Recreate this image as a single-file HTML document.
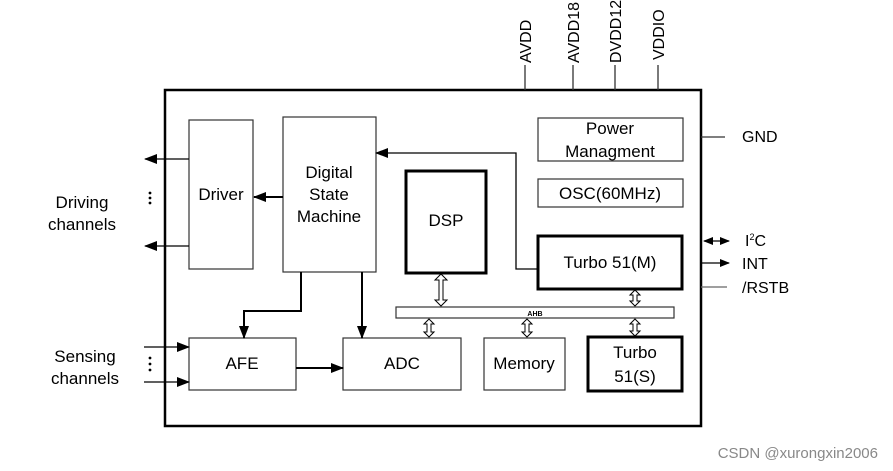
<!DOCTYPE html>
<html><head><meta charset="utf-8"><style>
html,body{margin:0;padding:0;background:#fff}
svg{display:block}
text{font-family:"Liberation Sans",Arial,sans-serif;fill:#000}
</style></head><body>
<svg width="893" height="471" viewBox="0 0 893 471" xmlns="http://www.w3.org/2000/svg">
<defs>
<marker id="ah" markerWidth="13" markerHeight="10" refX="12" refY="5" orient="auto" markerUnits="userSpaceOnUse"><path d="M0,0 L13,5 L0,10 z" fill="#000"/></marker>
<marker id="ahs" markerWidth="10" markerHeight="8" refX="9" refY="4" orient="auto-start-reverse" markerUnits="userSpaceOnUse"><path d="M0,0 L10,4 L0,8 z" fill="#000"/></marker>
</defs>
<rect x="165" y="90" width="536" height="336" fill="none" stroke="#000" stroke-width="2.5"/>
<g stroke="#333" stroke-width="1.3">
<line x1="525" y1="65" x2="525" y2="90"/>
<line x1="573" y1="65" x2="573" y2="90"/>
<line x1="615" y1="65" x2="615" y2="90"/>
<line x1="658" y1="65" x2="658" y2="90"/>
<line x1="701" y1="137" x2="725" y2="137"/>
<line x1="701" y1="287" x2="727" y2="287" stroke="#666"/>
</g>
<g font-size="16">
<text transform="translate(531,63) rotate(-90)">AVDD</text>
<text transform="translate(579,63) rotate(-90)">AVDD18</text>
<text transform="translate(621,63) rotate(-90)">DVDD12</text>
<text transform="translate(664,60) rotate(-90)">VDDIO</text>
<text x="742" y="142">GND</text>
<text x="745" y="246">I<tspan font-size="9" dy="-6">2</tspan><tspan dy="6">C</tspan></text>
<text x="742" y="269">INT</text>
<text x="742" y="293">/RSTB</text>
</g>
<line x1="704" y1="241" x2="729" y2="241" stroke="#000" stroke-width="1.3" marker-start="url(#ahs)" marker-end="url(#ahs)"/>
<line x1="701" y1="263" x2="729" y2="263" stroke="#000" stroke-width="1.3" marker-end="url(#ahs)"/>
<g fill="#fff" stroke="#333" stroke-width="1.2">
<rect x="189" y="120" width="64" height="149"/>
<rect x="283" y="117" width="93" height="155"/>
<rect x="538" y="118" width="145" height="43"/>
<rect x="538" y="179" width="145" height="28"/>
<rect x="189" y="338" width="107" height="52"/>
<rect x="343" y="338" width="118" height="52"/>
<rect x="484" y="338" width="81" height="52"/>
<rect x="396" y="307" width="278" height="11"/>
</g>
<g fill="#fff" stroke="#000" stroke-width="3">
<rect x="406" y="171" width="80" height="102"/>
<rect x="538" y="236" width="144" height="53"/>
<rect x="588" y="337" width="94" height="54"/>
</g>
<g font-size="17" text-anchor="middle">
<text x="221" y="200">Driver</text>
<text x="329" y="178">Digital</text>
<text x="329" y="200">State</text>
<text x="329" y="222">Machine</text>
<text x="610" y="134">Power</text>
<text x="610" y="157">Managment</text>
<text x="610" y="199">OSC(60MHz)</text>
<text x="446" y="226">DSP</text>
<text x="610" y="268">Turbo 51(M)</text>
<text x="242" y="369">AFE</text>
<text x="402" y="369">ADC</text>
<text x="524" y="369">Memory</text>
<text x="635" y="358">Turbo</text>
<text x="635" y="382">51(S)</text>
<text x="535" y="316" font-size="7" font-weight="bold" fill="#1a2a6a">AHB</text>
<text x="82" y="208">Driving</text>
<text x="82" y="230">channels</text>
<text x="85" y="362">Sensing</text>
<text x="85" y="384">channels</text>
</g>
<g fill="#000">
<circle cx="150" cy="193" r="1.4"/><circle cx="150" cy="198" r="1.4"/><circle cx="150" cy="203" r="1.4"/>
<circle cx="150" cy="358" r="1.4"/><circle cx="150" cy="364" r="1.4"/><circle cx="150" cy="370" r="1.4"/>
</g>
<g stroke="#000" stroke-width="1.3" fill="none">
<line x1="189" y1="159" x2="145" y2="159" marker-end="url(#ah)"/>
<line x1="189" y1="246" x2="145" y2="246" marker-end="url(#ah)"/>
<line x1="144" y1="347" x2="189" y2="347" marker-end="url(#ah)"/>
<line x1="144" y1="382" x2="189" y2="382" marker-end="url(#ah)"/>
<polyline points="538,269 516,269 516,153 376,153" marker-end="url(#ah)"/>
</g>
<g stroke="#000" stroke-width="2" fill="none">
<line x1="283" y1="197" x2="254" y2="197" marker-end="url(#ah)"/>
<polyline points="301,272 301,311 244,311 244,338" marker-end="url(#ah)"/>
<line x1="362" y1="272" x2="362" y2="338" marker-end="url(#ah)"/>
<line x1="296" y1="368" x2="343" y2="368" marker-end="url(#ah)"/>
</g>
<g fill="#fff" stroke="#000" stroke-width="1">
<polygon points="441,274 447,280 443,280 443,300 447,300 441,306 435,300 439,300 439,280 435,280"/>
<polygon points="635,290 640,295 637,295 637,301 640,301 635,306 630,301 633,301 633,295 630,295"/>
<polygon points="429,319 434,324 431,324 431,332 434,332 429,337 424,332 427,332 427,324 424,324"/>
<polygon points="527,319 532,324 529,324 529,332 532,332 527,337 522,332 525,332 525,324 522,324"/>
<polygon points="635,319 640,324 637,324 637,331 640,331 635,336 630,331 633,331 633,324 630,324"/>
</g>
<text x="878" y="458" font-size="15" text-anchor="end" style="fill:#888">CSDN @xurongxin2006</text>
</svg>
</body></html>
